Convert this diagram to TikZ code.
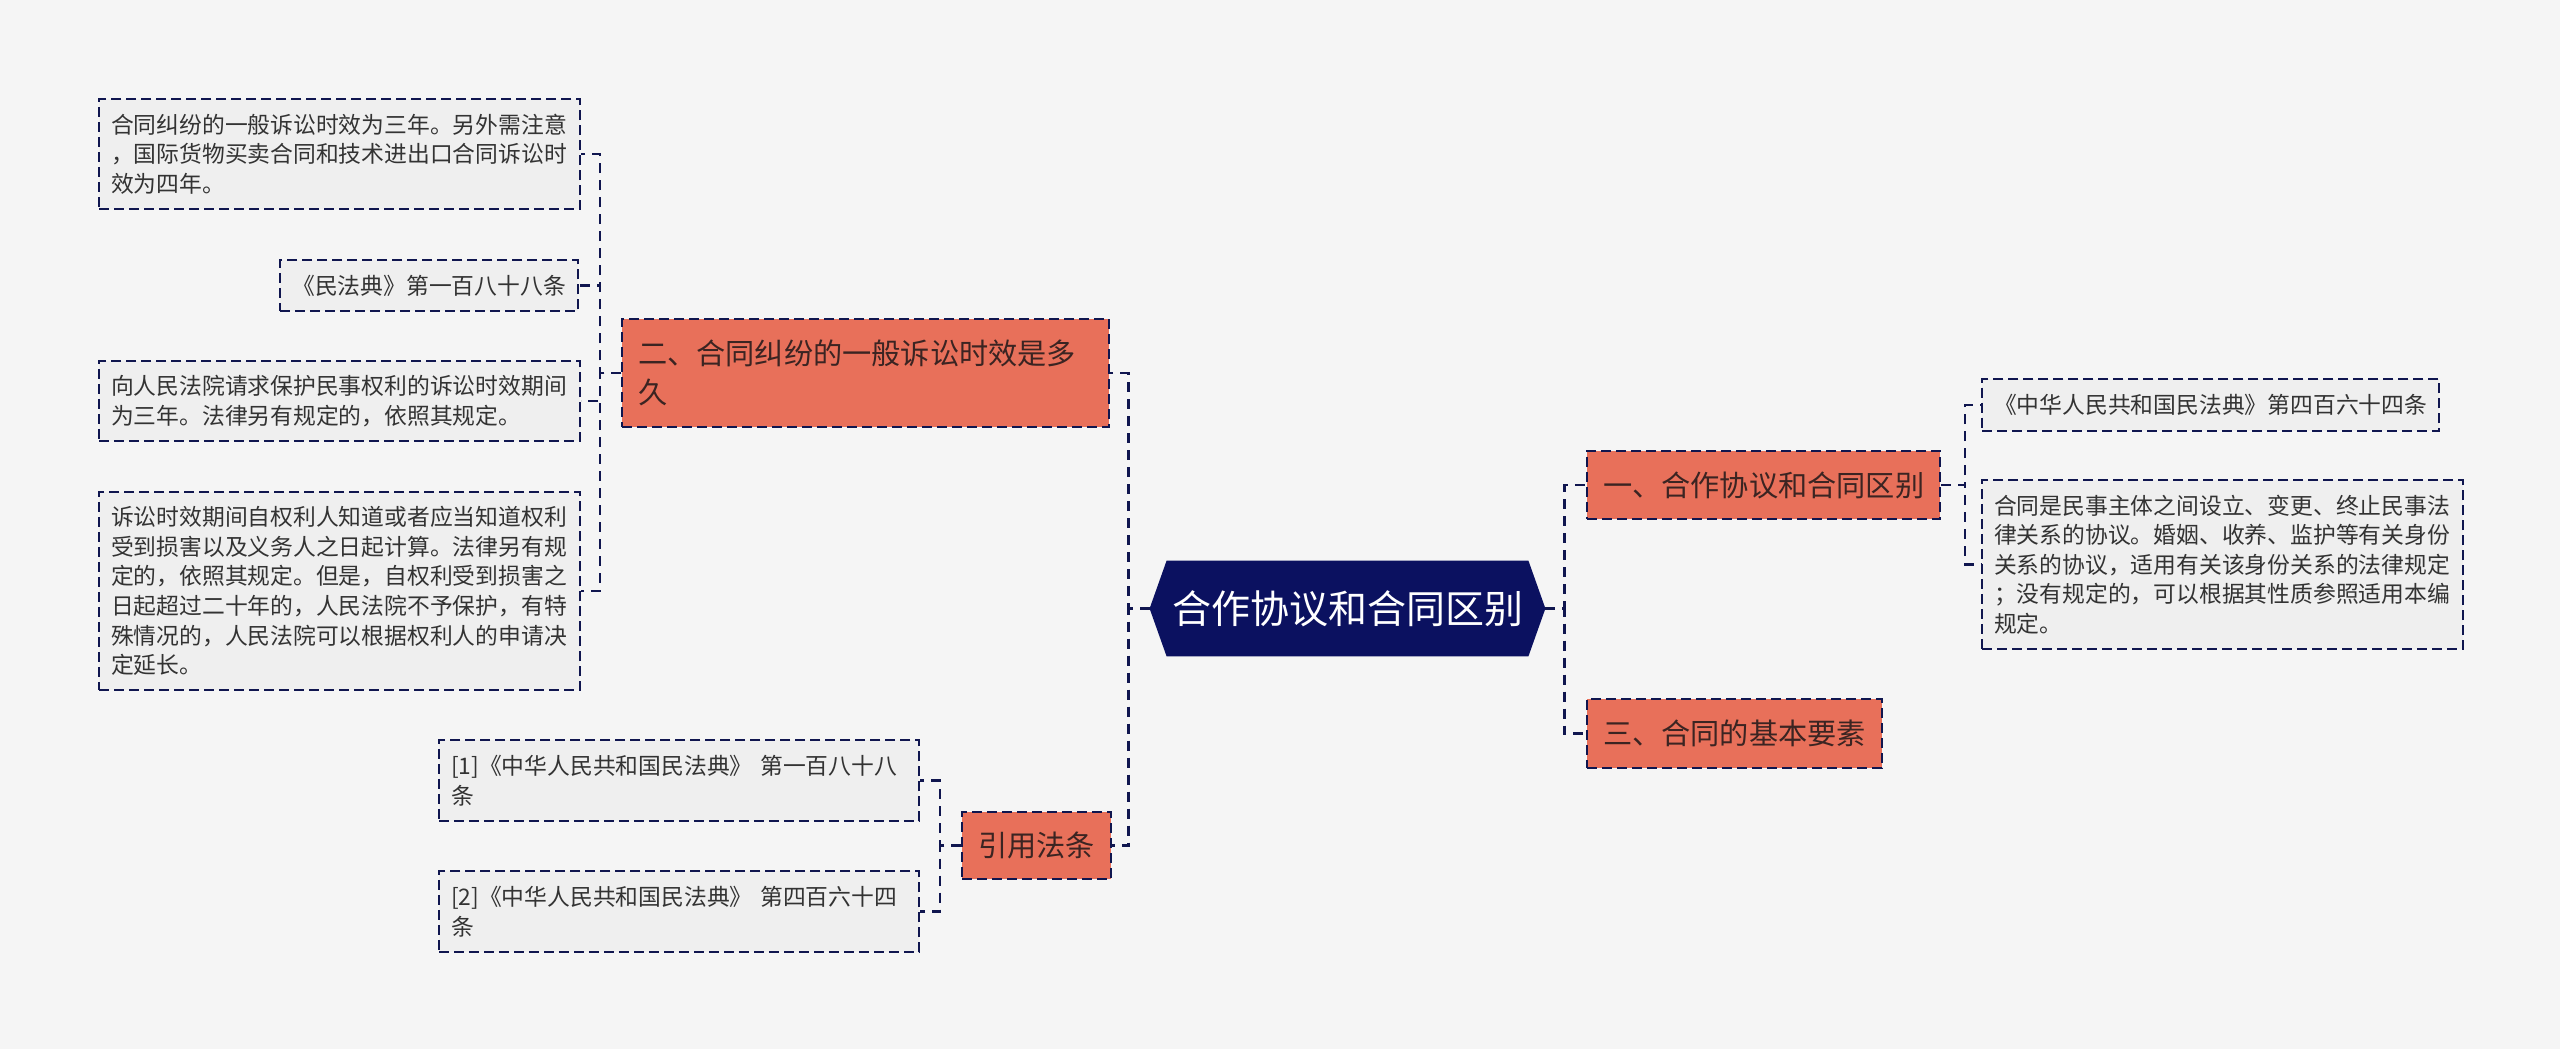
\documentclass[tikz,border=0pt]{standalone}
\usepackage{fontspec}
\setmainfont{Noto Sans CJK SC}
\usetikzlibrary{backgrounds}

\definecolor{bgcol}{HTML}{F5F5F5}
\definecolor{rootcol}{HTML}{0B1160}
\definecolor{brcol}{HTML}{E8705A}
\definecolor{brtext}{HTML}{3B2422}
\definecolor{linecol}{HTML}{10164F}
\definecolor{leafcol}{HTML}{EFEFEF}
\definecolor{leaftext}{HTML}{333333}

\tikzset{
  conn/.style={draw=linecol, line width=1.25pt, dash pattern=on 5pt off 3.5pt},
  leaf/.style={draw=linecol, line width=1pt, dash pattern=on 5pt off 2.5pt,
    fill=leafcol, text=leaftext, anchor=north west, align=left,
    inner xsep=6pt, inner ysep=0pt, font=\fontsize{11.4pt}{14.8pt}\selectfont},
  branch/.style={draw=linecol, line width=1pt, dash pattern=on 5pt off 2.5pt,
    fill=brcol, text=brtext, anchor=north west,
    inner xsep=8pt, inner ysep=0pt, font=\fontsize{14.6pt}{19.5pt}\selectfont},
}

\begin{document}
\begin{tikzpicture}[x=0.5pt, y=-0.5pt]
\useasboundingbox (0,0) rectangle (2560,1049);

% centre
\node[text=white, minimum width=197.5pt, minimum height=47.5pt, inner sep=0pt,
  font=\fontsize{19.5pt}{24pt}\selectfont] (root) at (1347.5,608.5) {合作协议和合同区别};

% first level
\node[branch, text width=227.5pt, align=left, minimum height=54pt] (sec2) at (621,318)
  {二、合同纠纷的一般诉讼时效是多\\久};
\node[branch, minimum width=73pt, minimum height=33.5pt] (cite) at (961,811) {引用法条};
\node[branch, minimum width=175.5pt, minimum height=34pt] (sec1) at (1586,450) {一、合作协议和合同区别};
\node[branch, minimum width=147pt, minimum height=34.5pt] (sec3) at (1586,698) {三、合同的基本要素};

% left leaves
\node[leaf, text width=228.5pt, minimum height=55pt] (law1) at (98,98)
  {合同纠纷的一般诉讼时效为三年。另外需注意\\，国际货物买卖合同和技术进出口合同诉讼时\\效为四年。};
\node[leaf, anchor=north east, align=center, minimum width=149pt, minimum height=25.5pt] (law2) at (579,259)
  {《民法典》第一百八十八条};
\node[leaf, text width=228.5pt, minimum height=40pt] (law3) at (98,360)
  {向人民法院请求保护民事权利的诉讼时效期间\\为三年。法律另有规定的，依照其规定。};
\node[leaf, text width=228.5pt, minimum height=99pt] (law4) at (98,491)
  {诉讼时效期间自权利人知道或者应当知道权利\\受到损害以及义务人之日起计算。法律另有规\\定的，依照其规定。但是，自权利受到损害之\\日起超过二十年的，人民法院不予保护，有特\\殊情况的，人民法院可以根据权利人的申请决\\定延长。};
\node[leaf, text width=228pt, minimum height=40.5pt] (ref1) at (438,739)
  {[1]《中华人民共和国民法典》 第一百八十八\\条};
\node[leaf, text width=228pt, minimum height=40.5pt] (ref2) at (438,870)
  {[2]《中华人民共和国民法典》 第四百六十四\\条};

% right leaves
\node[leaf, align=center, minimum width=228.5pt, minimum height=26pt] (law6) at (1981,378)
  {《中华人民共和国民法典》第四百六十四条};
\node[leaf, text width=228.5pt, minimum height=84.5pt] (law7) at (1981,479)
  {合同是民事主体之间设立、变更、终止民事法\\律关系的协议。婚姻、收养、监护等有关身份\\关系的协议，适用有关该身份关系的法律规定\\；没有规定的，可以根据其性质参照适用本编\\规定。};

% connectors
\draw[conn] (root.west) -- ++(-21,0) |- (sec2.east);
\draw[conn] (root.west) -- ++(-21,0) |- (cite.east);
\draw[conn] (root.east) -- ++(19,0) |- (sec1.west);
\draw[conn] (root.east) -- ++(19,0) |- (sec3.west);
\draw[conn] (sec2.west) -- ++(-21,0) |- (law1.east);
\draw[conn] (sec2.west) -- ++(-21,0) |- (law2.east);
\draw[conn] (sec2.west) -- ++(-21,0) |- (law3.east);
\draw[conn] (sec2.west) -- ++(-21,0) |- (law4.east);
\draw[conn] (cite.west) -- ++(-21,0) |- (ref1.east);
\draw[conn] (cite.west) -- ++(-21,0) |- (ref2.east);
\draw[conn] (sec1.east) -- ++(24,0) |- (law6.west);
\draw[conn] (sec1.east) -- ++(24,0) |- (law7.west);

\begin{scope}[on background layer]
\fill[bgcol] (0,0) rectangle (2560,1049);
\fill[rootcol] (root.west) -- ([xshift=8.5pt]root.north west) -- ([xshift=-8.5pt]root.north east)
  -- (root.east) -- ([xshift=-8.5pt]root.south east) -- ([xshift=8.5pt]root.south west) -- cycle;
\end{scope}
\end{tikzpicture}
\end{document}
